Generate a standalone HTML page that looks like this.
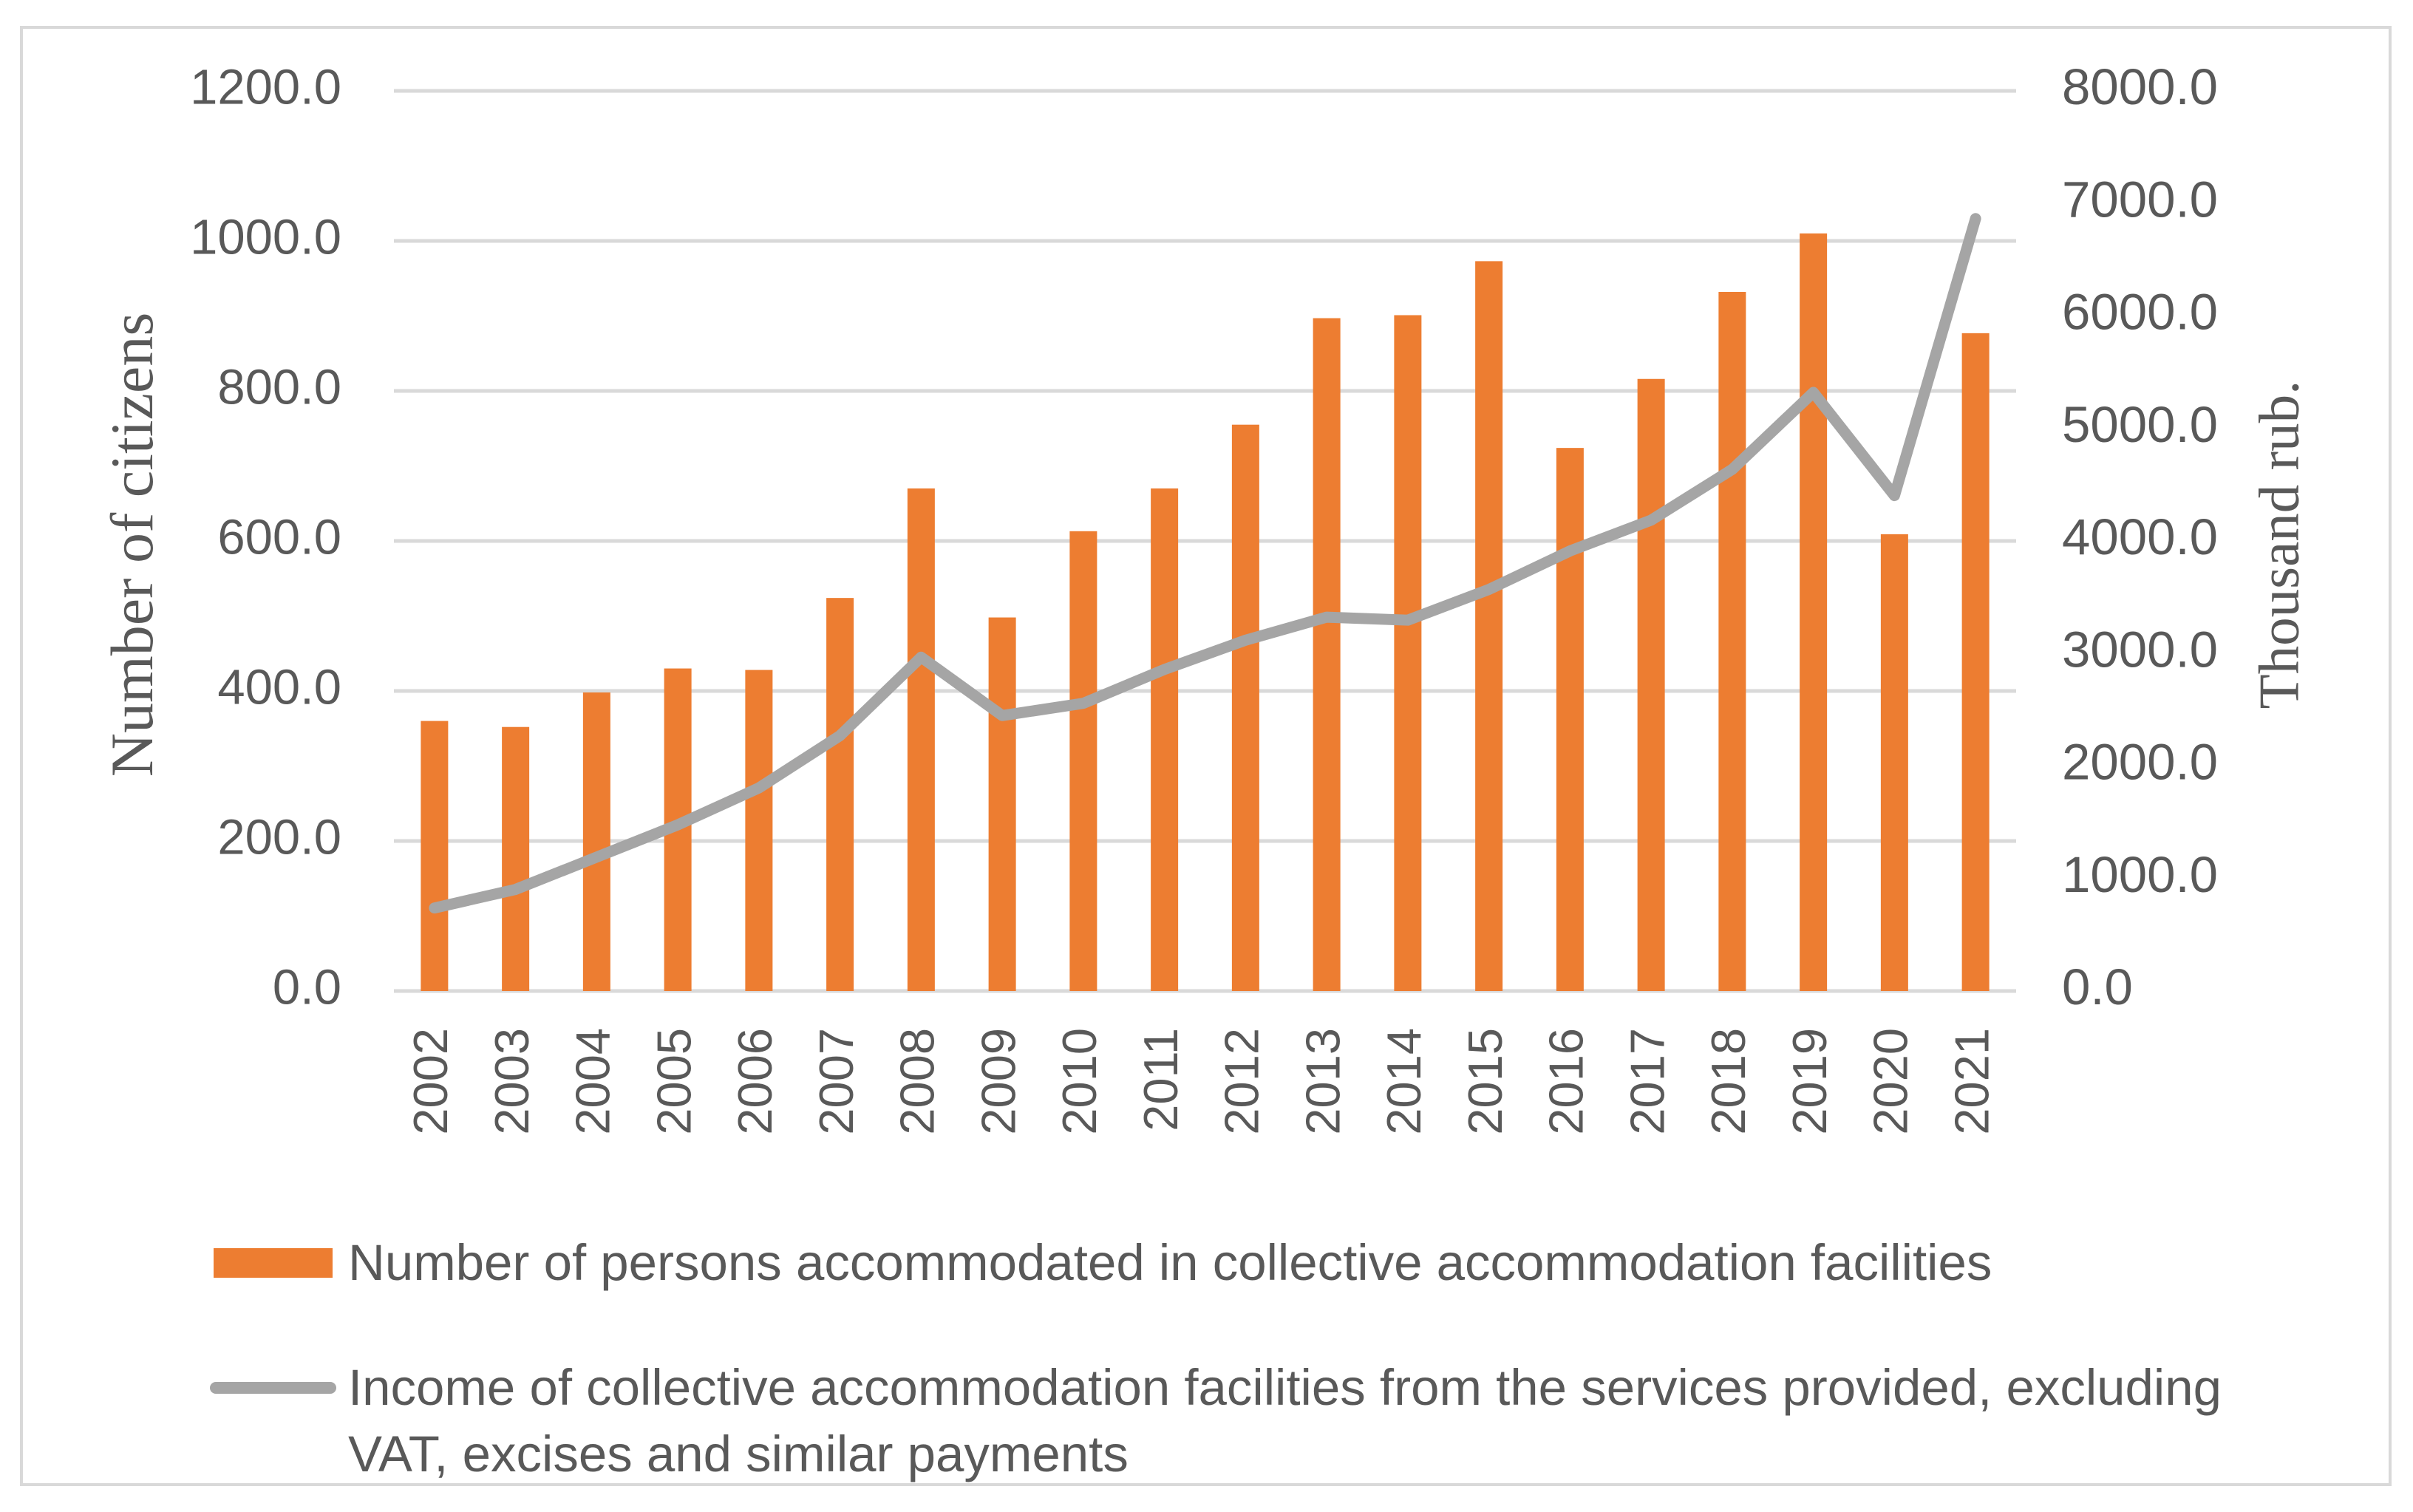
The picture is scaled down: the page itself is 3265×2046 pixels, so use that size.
<!DOCTYPE html>
<html><head><meta charset="utf-8"><style>
html,body{margin:0;padding:0;background:#fff;}
svg{display:block;}
</style></head><body>
<svg id="chart" width="3265" height="2046" xmlns="http://www.w3.org/2000/svg">
<rect x="29" y="37" width="3205" height="1972" fill="#fff" stroke="#d9d9d9" stroke-width="4"/>
<g id="grid"></g><g id="bars"></g><g id="line"></g><g id="labels"></g>
<text x="187" y="737" transform="rotate(-90 187 737)" text-anchor="middle" dominant-baseline="middle" font-family="Liberation Serif, serif" font-size="82" fill="#595959">Number of citizens</text>
<text x="3092" y="737" transform="rotate(-90 3092 737)" text-anchor="middle" dominant-baseline="middle" font-family="Liberation Serif, serif" font-size="77" fill="#595959">Thousand rub.</text>
<g>
<rect x="289" y="1689" width="161" height="40" fill="#ed7d31"/>
<text x="471" y="1732" font-family="Liberation Sans, sans-serif" font-size="69" fill="#595959">Number of persons accommodated in collective accommodation facilities</text>
<line x1="292" y1="1878" x2="447" y2="1878" stroke="#a5a5a5" stroke-width="16" stroke-linecap="round"/>
<text x="471" y="1901" font-family="Liberation Sans, sans-serif" font-size="69" fill="#595959">Income of collective accommodation facilities from the services provided, excluding</text>
<text x="471" y="1991" font-family="Liberation Sans, sans-serif" font-size="69" fill="#595959">VAT, excises and similar payments</text>
</g>
</svg>
<script>
const years=['2002','2003','2004','2005','2006','2007','2008','2009','2010','2011','2012','2013','2014','2015','2016','2017','2018','2019','2020','2021'];
const persons=[360,352,398,430,428,524,670,498,613,670,755,897,901,973,724,816,932,1010,609,877];
const income=[738,903,1190,1477,1805,2270,2967,2448,2557,2858,3118,3323,3296,3569,3911,4185,4636,5320,4403,6865];
const leftTicks=['0.0','200.0','400.0','600.0','800.0','1000.0','1200.0'];
const rightTicks=['0.0','1000.0','2000.0','3000.0','4000.0','5000.0','6000.0','7000.0','8000.0'];
const NS='http://www.w3.org/2000/svg';
const X0=533,X1=2728,Y0=1341,Y1=123;
const yL=v=>Y0-(v/1200)*(Y0-Y1);
const yR=v=>Y0-(v/8000)*(Y0-Y1);
const band=(X1-X0)/years.length;
const xC=i=>X0+band*(i+0.5);
function mk(t,a,p){const e=document.createElementNS(NS,t);for(const k in a)e.setAttribute(k,a[k]);p.appendChild(e);return e;}
const grid=document.getElementById('grid'),bars=document.getElementById('bars'),line=document.getElementById('line'),labels=document.getElementById('labels');
leftTicks.forEach(t=>{const v=parseFloat(t);const y=yL(v);
 const g=mk('line',{x1:X0,x2:X1,y1:y,y2:y,stroke:'#d9d9d9','stroke-width':5},grid);
 
 
 const tx=mk('text',{x:462,y:y,'text-anchor':'end','dominant-baseline':'middle','font-family':'Liberation Sans, sans-serif','font-size':67,fill:'#595959'},labels);
 tx.textContent=t;
 
 
});
rightTicks.forEach(t=>{const y=yR(parseFloat(t));
 const tx=mk('text',{x:2790,y:y,'dominant-baseline':'middle','font-family':'Liberation Sans, sans-serif','font-size':69,fill:'#595959'},labels);
 tx.textContent=t;
 
 
});
persons.forEach((v,i)=>{const y=yL(v);
 const r=mk('rect',{x:xC(i)-18.5,y:y,width:37,height:Y0-y,fill:'#ed7d31'},bars);
 
 
});
years.forEach((yr,i)=>{const x=xC(i),y=1391;
 const tx=mk('text',{x:x,y:y,transform:`rotate(-90 ${x} ${y})`,'text-anchor':'end','dominant-baseline':'middle','font-family':'Liberation Sans, sans-serif','font-size':65,fill:'#595959'},labels);
 tx.textContent=yr;
 
 
});
const pts=income.map((v,i)=>xC(i)+','+yR(v)).join(' ');
const pl=mk('polyline',{points:pts,fill:'none',stroke:'#a5a5a5','stroke-width':15,'stroke-linejoin':'round','stroke-linecap':'round'},line);


</script>
</body></html>
